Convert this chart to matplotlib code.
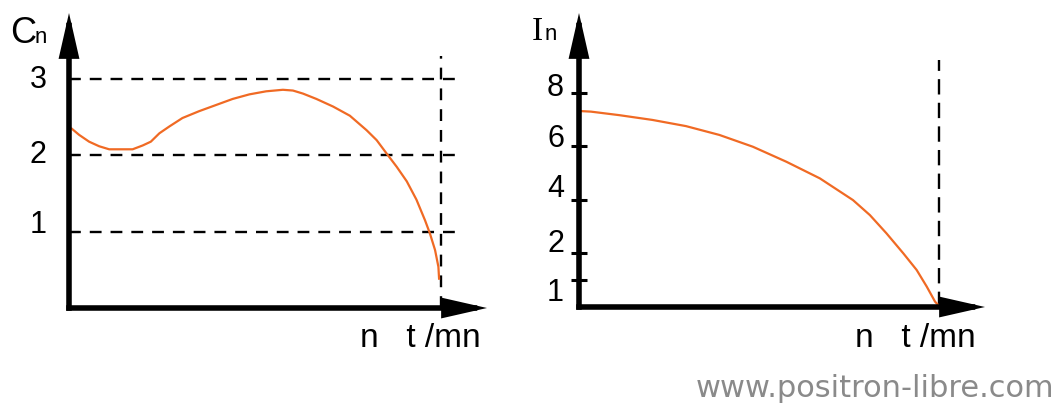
import matplotlib
matplotlib.use("Agg")
import matplotlib.pyplot as plt
import matplotlib.transforms as mtransforms

# ---------------- data ----------------
# speed expressed as a fraction of the synchronous speed (1.0 = dashed vertical line)
cn_speed = [0.005, 0.027, 0.054, 0.081, 0.108, 0.135, 0.171, 0.198, 0.220, 0.243,
            0.270, 0.305, 0.350, 0.395, 0.440, 0.485, 0.530, 0.575, 0.602, 0.629,
            0.665, 0.710, 0.755, 0.800, 0.827, 0.853, 0.881, 0.908, 0.934, 0.957,
            0.970, 0.984, 0.993, 0.995]
cn_values = [2.36, 2.27, 2.18, 2.12, 2.08, 2.08, 2.08, 2.13, 2.18, 2.29,
             2.38, 2.49, 2.58, 2.66, 2.74, 2.80, 2.84, 2.86, 2.85, 2.81,
             2.74, 2.64, 2.52, 2.33, 2.20, 2.03, 1.85, 1.66, 1.42, 1.15,
             0.98, 0.76, 0.54, 0.37]

in_speed = [0.005, 0.033, 0.111, 0.204, 0.297, 0.390, 0.483, 0.576, 0.669, 0.761,
            0.808, 0.854, 0.901, 0.938, 0.966, 0.989, 0.998]
in_values = [7.31, 7.29, 7.16, 6.98, 6.75, 6.42, 5.98, 5.42, 4.80, 3.99,
             3.43, 2.75, 2.00, 1.38, 0.76, 0.20, 0.07]

cn_ticks = [1, 2, 3]
cn_tick_labels = ["1", "2", "3"]
in_ticks = [1, 2, 4, 6, 8]
in_tick_labels = ["1", "2", "4", "6", "8"]
cn_ref_levels = [1, 2, 3]
synchronous_speed = 1.0

x_label = "n   t /mn"
cn_label = ("C", "n")
in_label = ("I", "n")
watermark = "www.positron-libre.com"

# ---------------- figure ----------------
W, H = 1060, 408
fig = plt.figure(figsize=(W / 100, H / 100), dpi=100)
fig.patch.set_facecolor("white")

ORANGE = "#f06a24"
FONT = "Liberation Sans"


def px_axes(left, top, right, bottom):
    return fig.add_axes([left / W, 1 - bottom / H, (right - left) / W, (bottom - top) / H])


def arrows(ax):
    style = "-|>,head_length=22,head_width=5"
    for xy in [(1, 0), (0, 1)]:
        ax.annotate("", xy=xy, xytext=(0, 0), xycoords="axes fraction",
                    textcoords="axes fraction", annotation_clip=False,
                    arrowprops=dict(arrowstyle=style, mutation_scale=1, lw=4,
                                    color="black", shrinkA=0, shrinkB=0,
                                    capstyle="projecting", joinstyle="miter"))


def style_axes(ax):
    for s in ax.spines.values():
        s.set_visible(False)
    ax.set_xticks([])
    ax.patch.set_alpha(0)


def offset_labels(ax, offsets):
    for lab, dy in zip(ax.get_yticklabels(), offsets):
        lab.set_transform(lab.get_transform() +
                          mtransforms.ScaledTranslation(0, dy / 100, fig.dpi_scale_trans))


dash = (0, (5.0, 3.8))

# ---- left: torque ----
ax1 = px_axes(69, 13, 487, 308)
style_axes(ax1)
ax1.set_xlim(0, 418 / 372)
ax1.set_ylim(0, 295 / 76.3)
ax1.hlines(cn_ref_levels, 0, 1.046, colors="black", linestyles=dash, lw=1.7)
ax1.vlines(synchronous_speed, 0, 3.30, colors="black", linestyles=dash, lw=1.7)
ax1.plot(cn_speed, cn_values, color=ORANGE, lw=1.6, solid_capstyle="butt")
ax1.set_yticks(cn_ticks)
ax1.set_yticklabels(cn_tick_labels, fontfamily=FONT, fontsize=22)
ax1.tick_params(axis="y", direction="in", length=7, width=1.5, pad=16)
offset_labels(ax1, [10, 4, 3])
arrows(ax1)

# ---- right: current ----
ax2 = px_axes(579, 13, 985, 307)
style_axes(ax2)
ax2.set_xlim(0, 406 / 360)
ax2.set_ylim(0, 294 / 26.8)
ax2.vlines(synchronous_speed, 0, 9.2, colors="black", linestyles=(0, (6.5, 3.5)), lw=1.7)
ax2.plot(in_speed, in_values, color=ORANGE, lw=1.6, solid_capstyle="butt")
ax2.set_yticks(in_ticks)
ax2.set_yticklabels(in_tick_labels, fontfamily=FONT, fontsize=22)
ax2.tick_params(axis="y", direction="inout", length=11.5, width=2.2, pad=5)
offset_labels(ax2, [-9, 13, 14, 11, 8])
arrows(ax2)

# ---- axis names ----
def ftext(px, py, s, **kw):
    fig.text(px / W, 1 - py / H, s, **kw)

ftext(10, 43, cn_label[0], fontfamily=FONT, fontsize=26, va="baseline", ha="left")
ftext(35, 43, cn_label[1], fontfamily=FONT, fontsize=16, va="baseline", ha="left")
ftext(532, 40, in_label[0], fontfamily="Liberation Serif", fontsize=24, va="baseline", ha="left")
ftext(545, 40, in_label[1], fontfamily=FONT, fontsize=16, va="baseline", ha="left")

ftext(481, 347, x_label, fontfamily=FONT, fontsize=24, va="baseline", ha="right")
ftext(976, 347, x_label, fontfamily=FONT, fontsize=24, va="baseline", ha="right")

ftext(1054, 397, watermark, fontfamily="DejaVu Sans", fontsize=22, color="#8a8a8a",
      va="baseline", ha="right")

fig.savefig("out.png", dpi=100)
